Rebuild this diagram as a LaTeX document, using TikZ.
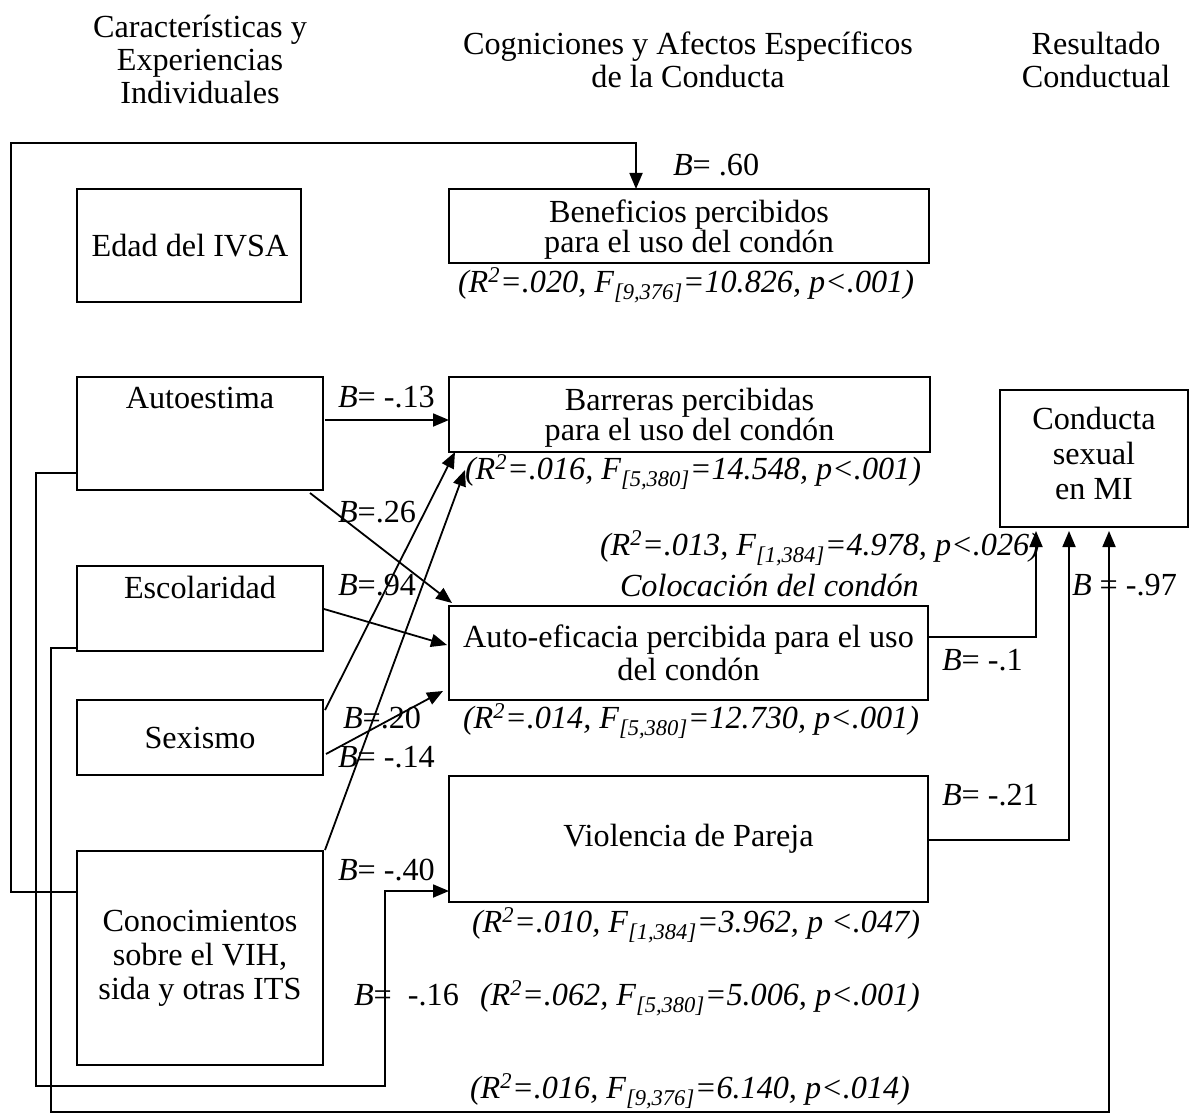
\documentclass[tikz,border=0pt]{standalone}
\usepackage{fontspec}
\setmainfont{Liberation Serif}
\usetikzlibrary{arrows.meta}
\begin{document}
\begin{tikzpicture}[x=1pt,y=-1pt,
  every node/.style={inner sep=0pt, outer sep=0pt, font=\fontsize{32.2}{33}\selectfont},
  box/.style={draw, line width=2.3pt, rectangle, inner sep=0pt, outer sep=0pt, align=center},
  txt/.style={align=center},
  arr/.style={line width=1.8pt, -{Triangle[length=16pt,width=13pt]}},
  lab/.style={anchor=base west},
  stat/.style={anchor=base west, font=\fontsize{32.2}{33}\selectfont\itshape},
]
\useasboundingbox (0,0) rectangle (1190,1115);

% headers
\node[txt] (h1) at (200,59) {Características y\\Experiencias\\Individuales};
\node[txt] (h2) at (688,60) {Cogniciones y Afectos Específicos\\de la Conducta};
\node[txt] (h3) at (1096,60) {Resultado\\Conductual};

% left column
\node[box, minimum width=224pt, minimum height=113pt] (edad) at (189,245.5) {};
\node (tedad) at (190,245.5) {Edad del IVSA};
\node[box, minimum width=246pt, minimum height=113pt] (autoestima) at (200,433.5) {};
\node (tautoestima) at (200,398) {Autoestima};
\node[box, minimum width=246pt, minimum height=85pt] (escolaridad) at (200,608.5) {};
\node (tescolaridad) at (200,587) {Escolaridad};
\node[box, minimum width=246pt, minimum height=75pt] (sexismo) at (200,737.5) {};
\node (tsexismo) at (200,738) {Sexismo};
\node[box, minimum width=246pt, minimum height=214pt] (conoc) at (200,958) {};
\node[txt, font=\fontsize{32.2}{34}\selectfont] (tconoc) at (200,958) {Conocimientos\\sobre el VIH,\\sida y otras ITS};

% middle column
\node[box, minimum width=480pt, minimum height=74pt] (benef) at (689,226) {};
\node[txt, font=\fontsize{32.2}{30}\selectfont] (tbenef) at (689,229.7) {Beneficios percibidos\\para el uso del condón};
\node[box, minimum width=481pt, minimum height=75pt] (barreras) at (689.5,414.5) {};
\node[txt, font=\fontsize{32.2}{30}\selectfont] (tbarreras) at (689.5,417.7) {Barreras percibidas\\para el uso del condón};
\node[box, minimum width=479pt, minimum height=94pt] (autoef) at (688.5,653) {};
\node[txt] (tautoef) at (688.5,653) {Auto-eficacia percibida para el uso\\del condón};
\node[box, minimum width=479pt, minimum height=126pt] (violencia) at (688.5,839) {Violencia de Pareja};

% right column
\node[box, minimum width=188pt, minimum height=137pt] (conducta) at (1094,458.5) {};
\node[txt, font=\fontsize{32.2}{35}\selectfont] (tconducta) at (1094,453) {Conducta\\sexual\\en MI};

% statistics
\node[stat] (s1) at (458,292) {(R\textsuperscript{2}=.020, F\textsubscript{[9,376]}=10.826, p<.001)};
\node[stat] (s2) at (465,479) {(R\textsuperscript{2}=.016, F\textsubscript{[5,380]}=14.548, p<.001)};
\node[stat] (s3) at (600,555) {(R\textsuperscript{2}=.013, F\textsubscript{[1,384]}=4.978, p<.026)};
\node[stat] (s3b) at (620,596) {Colocación del condón};
\node[stat] (s4) at (463,728) {(R\textsuperscript{2}=.014, F\textsubscript{[5,380]}=12.730, p<.001)};
\node[stat] (s5) at (472,932) {(R\textsuperscript{2}=.010, F\textsubscript{[1,384]}=3.962, p <.047)};
\node[stat] (s6) at (480,1005) {(R\textsuperscript{2}=.062, F\textsubscript{[5,380]}=5.006, p<.001)};
\node[stat] (s7) at (470,1098) {(R\textsuperscript{2}=.016, F\textsubscript{[9,376]}=6.140, p<.014)};

% coefficient labels
\node[lab] (b60) at (673,176) {\textit{B}= .60};
\node[lab] (b13) at (338,407) {\textit{B}= -.13};
\node[lab] (b26) at (338,522) {\textit{B}=.26};
\node[lab] (b94) at (338,595) {\textit{B}=.94};
\node[lab] (b20) at (343,728) {\textit{B}=.20};
\node[lab] (b14) at (338,767) {\textit{B}= -.14};
\node[lab] (b40) at (338,880) {\textit{B}= -.40};
\node[lab] (b16) at (354,1005) {\textit{B}=\ \ -.16};
\node[lab] (b1) at (942,670) {\textit{B}= -.1};
\node[lab] (b21) at (942,805) {\textit{B}= -.21};
\node[lab] (b97) at (1072,595) {\textit{B} = -.97};

% routing coordinates
\coordinate (k1) at (636,143);
\coordinate (k2) at (36,1086);
\coordinate (k3) at (385,891);
\coordinate (k4) at (51,1112);
\coordinate (k5) at (1109,1112);
\coordinate (k6) at (1036,637);
\coordinate (k7) at (1069,840);

% long routed connectors
\draw[arr] ([yshift=-41pt]conoc.north west) -| (11,143) -- (k1) -- (k1 |- benef.north);
\draw[arr] ([yshift=-96pt]autoestima.north west) -| (k2) -| (k3) -- (k3 -| violencia.west);
\draw[arr] ([yshift=-82pt]escolaridad.north west) -| (k4) -- (k5) -- ([yshift=-4pt]k5 |- conducta.south);
\draw[arr] ([yshift=-31pt]autoef.north east) -- (k6) -- ([yshift=-4pt]k6 |- conducta.south);
\draw[arr] ([yshift=-64pt]violencia.north east) -- (k7) -- ([yshift=-4pt]k7 |- conducta.south);

% straight connectors
\draw[arr] ([xshift=2pt,yshift=-43pt]autoestima.north east) -- ([yshift=-43pt]barreras.north west);
\draw[arr] ([xshift=-13pt,yshift=-3pt]autoestima.south east) -- ([xshift=3pt,yshift=3pt]autoef.north west);
\draw[arr] ([xshift=1pt,yshift=-43pt]escolaridad.north east) -- ([xshift=-2pt,yshift=-39pt]autoef.north west);
\draw[arr] ([xshift=2pt,yshift=-10pt]sexismo.north east) -- ([xshift=6pt]barreras.south west);
\draw[arr] ([xshift=2pt,yshift=1pt]conoc.north east) -- ([xshift=16pt,yshift=-18pt]barreras.south west);
\draw[arr] ([xshift=3pt,yshift=-54pt]sexismo.north east) -- ([xshift=-6pt,yshift=9pt]autoef.south west);
\end{tikzpicture}
\end{document}
